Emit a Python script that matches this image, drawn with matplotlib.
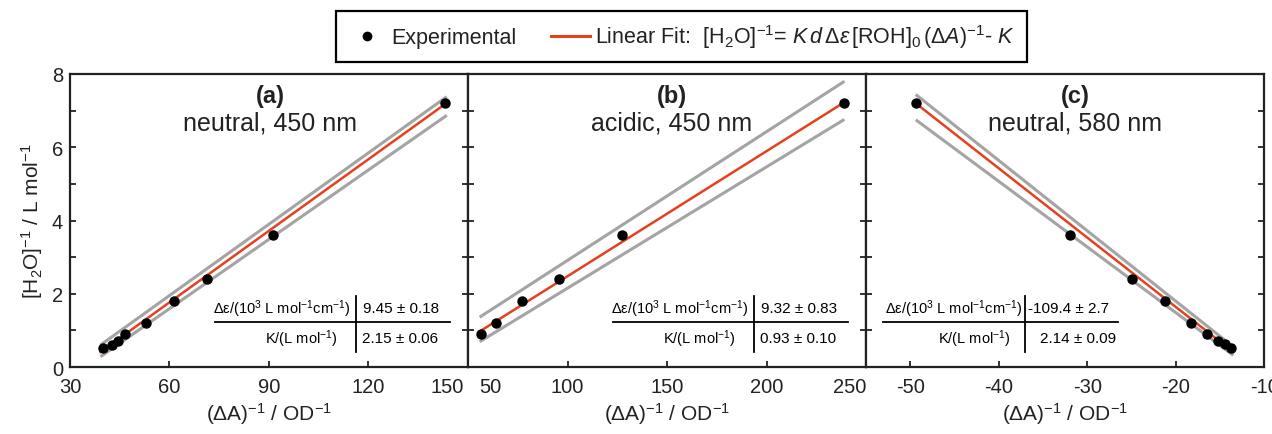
import matplotlib
matplotlib.use('Agg')
from matplotlib import pyplot as plt
from matplotlib.lines import Line2D
from matplotlib.transforms import ScaledTranslation

plt.rcParams['font.family'] = ['Liberation Sans', 'DejaVu Sans']
plt.rcParams['mathtext.fontset'] = 'custom'
plt.rcParams['mathtext.rm'] = 'Liberation Sans'
plt.rcParams['mathtext.it'] = 'Liberation Sans:italic'
plt.rcParams['mathtext.bf'] = 'Liberation Sans:bold'
plt.rcParams['axes.unicode_minus'] = False

# Measured points: (dA)^-1 vs [H2O]^-1
a_x = [39.9, 42.6, 44.6, 46.5, 52.8, 61.3, 71.4, 91.3, 143.2]
a_y = [0.52, 0.61, 0.72, 0.90, 1.20, 1.80, 2.40, 3.61, 7.20]
b_x = [56.7, 64.2, 77.2, 95.7, 127.4, 239.0]
b_y = [0.90, 1.20, 1.80, 2.40, 3.61, 7.20]
c_x = [-49.4, -32.0, -25.0, -21.2, -18.3, -16.5, -15.2, -14.4, -13.8]
c_y = [7.20, 3.61, 2.40, 1.80, 1.20, 0.90, 0.72, 0.62, 0.52]

# Fit lines and confidence lines (end points)
a_fit_x = [39.2, 143.6]
a_fit_y = [0.41, 7.21]
a_up_y = [0.60, 7.38]
a_lo_y = [0.28, 6.87]
b_fit_x = [55.8, 239.1]
b_fit_y = [0.97, 7.23]
b_up_y = [1.36, 7.80]
b_lo_y = [0.69, 6.76]
c_fit_x = [-49.4, -13.5]
c_fit_y = [7.20, 0.41]
c_up_y = [7.44, 0.55]
c_lo_y = [6.75, 0.32]

panel_tags = ['(a)', '(b)', '(c)']
panel_names = ['neutral, 450 nm', 'acidic, 450 nm', 'neutral, 580 nm']
deps_vals = ['9.45 ± 0.18', '9.32 ± 0.83', '-109.4 ± 2.7']
k_vals = ['2.15 ± 0.06', '0.93 ± 0.10', '2.14 ± 0.09']
x_limits = [(30, 150), (50, 250), (-55, -10)]
x_ticks = [[30, 60, 90, 120, 150], [50, 100, 150, 200, 250], [-50, -40, -30, -20, -10]]

RED = '#e4421f'
GRAY = '#a4a4a4'


def main():
    fig = plt.figure(figsize=(12.72, 4.35), dpi=100)
    lefts = [0.055, 0.368, 0.681]
    width = 0.3129
    data = [
        (a_x, a_y, a_fit_x, a_fit_y, a_up_y, a_lo_y),
        (b_x, b_y, b_fit_x, b_fit_y, b_up_y, b_lo_y),
        (c_x, c_y, c_fit_x, c_fit_y, c_up_y, c_lo_y),
    ]
    tag_x = [0.503, 0.512, 0.525]
    # table layout per panel: hline start/end, vline x, label right, value left
    tables = [
        (0.364, 0.955, 0.719, (0.704, 0.673), (0.736, 0.734)),
        (0.364, 0.955, 0.719, (0.704, 0.673), (0.736, 0.734)),
        (0.043, 0.633, 0.400, (0.392, 0.362), (0.407, 0.437)),
    ]

    for i in range(3):
        ax = fig.add_axes([lefts[i], 0.154, width, 0.6736])
        xs, ys, fx, fy, uy, ly = data[i]
        ax.plot(fx, uy, color=GRAY, lw=2.2, solid_capstyle='butt', zorder=2)
        ax.plot(fx, ly, color=GRAY, lw=2.2, solid_capstyle='butt', zorder=2)
        ax.plot(fx, fy, color=RED, lw=1.8, zorder=3)
        ax.plot(xs, ys, 'o', color='black', ms=6.5, zorder=4)

        ax.set_xlim(*x_limits[i])
        ax.set_ylim(0, 8)
        ax.set_xticks(x_ticks[i])
        ax.set_yticks(range(0, 9))
        ax.set_yticklabels(['0', '', '2', '', '4', '', '6', '', '8'])
        ax.tick_params(axis='both', direction='in', length=4.5, width=1.3,
                       labelsize=14.5, color='#222222', labelcolor='#222222')
        ax.tick_params(axis='x', pad=7)
        ax.tick_params(axis='y', right=True, pad=5)
        for s in ax.spines.values():
            s.set_linewidth(1.6)
            s.set_color('#222222')
        if i > 0:
            ax.tick_params(axis='y', labelleft=False)
        else:
            ax.set_ylabel(r'[H$_2$O]$^{-1}$ / L mol$^{-1}$', fontsize=15, labelpad=5,
                          color='#222222')
        ax.set_xlabel(r'($\Delta$A)$^{-1}$ / OD$^{-1}$', fontsize=15, labelpad=3,
                      color='#222222')

        labels = ax.get_xticklabels()
        if i == 0:
            labels[-1].set_ha('right')
            labels[-1].set_transform(labels[-1].get_transform() +
                                     ScaledTranslation(-3 / 72, 0, fig.dpi_scale_trans))
        if i == 1:
            labels[0].set_ha('left')
            labels[0].set_transform(labels[0].get_transform() +
                                    ScaledTranslation(8 / 72, 0, fig.dpi_scale_trans))
            labels[-1].set_ha('right')

        ax.text(tag_x[i], 0.926, panel_tags[i], transform=ax.transAxes,
                ha='center', va='center', fontsize=17, fontweight='bold',
                color='#222222')
        ax.text(tag_x[i], 0.835, panel_names[i], transform=ax.transAxes,
                ha='center', va='center', fontsize=18, color='#222222')

        h0, h1, vx, lab_r, val_l = tables[i]
        ax.plot([h0, h1], [0.1526, 0.1526], color='black', lw=1.3,
                transform=ax.transAxes, clip_on=False)
        ax.plot([vx, vx], [0.051, 0.242], color='black', lw=1.3,
                transform=ax.transAxes, clip_on=False)
        ax.text(lab_r[0], 0.201, r'Δε/(10$^3$ L mol$^{-1}$cm$^{-1}$)',
                transform=ax.transAxes, ha='right', va='center', fontsize=10.5)
        ax.text(lab_r[1], 0.099, r'K/(L mol$^{-1}$)',
                transform=ax.transAxes, ha='right', va='center', fontsize=10.5)
        ax.text(val_l[0], 0.201, deps_vals[i], transform=ax.transAxes,
                ha='left', va='center', fontsize=11)
        ax.text(val_l[1], 0.099, k_vals[i], transform=ax.transAxes,
                ha='left', va='center', fontsize=11)

    handles = [
        Line2D([], [], marker='o', ls='none', color='black', ms=6),
        Line2D([], [], color=RED, lw=2.2),
    ]
    names = ['Experimental',
             r'Linear Fit:  [H$_2$O]$^{-1}$= $K\,d\,\Delta\epsilon\,$[ROH]$_0\,$($\Delta A$)$^{-1}$- $K$']
    leg = fig.legend(handles, names, loc='center', bbox_to_anchor=(0.5355, 0.914),
                     ncol=2, fontsize=15.5, frameon=True, fancybox=False,
                     edgecolor='black', framealpha=1, handlelength=1.8,
                     handletextpad=0.25, columnspacing=1.6, borderpad=0.55,
                     borderaxespad=0)
    leg.get_frame().set_linewidth(1.6)
    for t in leg.get_texts():
        t.set_color('#222222')

    fig.savefig('out.png', dpi=100)


if __name__ == '__main__':
    main()
